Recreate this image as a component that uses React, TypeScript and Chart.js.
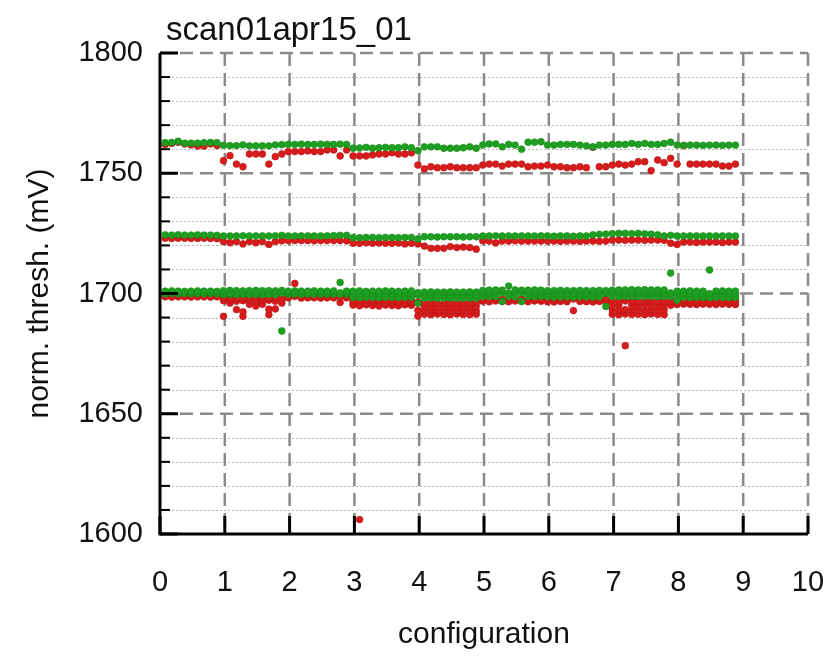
import { useEffect, useRef } from "react";
import { Chart, registerables } from "chart.js";

Chart.register(...registerables);

const FONT = "'Liberation Sans', Arial, Helvetica, sans-serif";

const chartTitle = "scan01apr15_01";
const xAxisTitle = "configuration";
const yAxisTitle = "norm. thresh. (mV)";

const xTicks = [0, 1, 2, 3, 4, 5, 6, 7, 8, 9, 10];
const yMajorTicks = [1600, 1650, 1700, 1750, 1800];
const yMinorTicks = [
  1610, 1620, 1630, 1640, 1660, 1670, 1680, 1690,
  1710, 1720, 1730, 1740, 1760, 1770, 1780, 1790,
];

// Readings per scan step (step i sits at configuration (i + 0.8) / 10).
// Upper threshold band
const topGreen = [
  1762.7, 1762.8, 1763.3, 1762.5, 1762.5, 1762.5, 1762.7, 1762.8, 1762.7,
  1761.6, 1761.5, 1761.5, 1761.8, 1761.4, 1761.4, 1761.4, 1761.4, 1761.8, 1761.9,
  1762.0, 1762.0, 1762.1, 1762.0, 1762.0, 1762.1, 1762.0, 1762.0, 1762.1, 1762.0,
  1760.4, 1760.5, 1760.8, 1760.4, 1760.6, 1760.8, 1760.6, 1760.6, 1761.0, 1760.6,
  1759.4, 1761.0, 1761.0, 1761.0, 1760.4, 1760.4, 1760.4, 1760.6, 1761.0, 1760.4,
  1761.7, 1762.2, 1762.2, 1761.0, 1762.0, 1761.7, 1760.0, 1762.9, 1762.9, 1763.1,
  1761.7, 1761.7, 1762.0, 1762.0, 1762.0, 1761.7, 1761.4, 1761.0, 1761.7, 1761.7,
  1762.0, 1762.0, 1762.0, 1762.4, 1762.0, 1762.4, 1762.0, 1762.0, 1762.4, 1762.9,
  1761.7, 1761.6, 1761.7, 1761.7, 1761.6, 1761.7, 1761.7, 1761.6, 1761.7, 1761.7,
];
const topRed = [
  1762.0, 1762.4, 1762.9, 1762.2, 1761.8, 1761.3, 1761.3, 1762.2, 1761.5,
  1755.2, 1757.3, 1753.8, 1752.7, 1758.0, 1758.0, 1758.0, 1753.8, 1756.9, 1758.0,
  1759.0, 1759.0, 1759.0, 1759.3, 1759.0, 1759.0, 1759.7, 1759.7, 1757.2, 1759.7,
  1757.2, 1757.2, 1757.2, 1757.6, 1758.0, 1758.0, 1758.5, 1758.0, 1758.0, 1758.5,
  1753.4, 1751.8, 1752.7, 1752.3, 1752.3, 1752.7, 1752.3, 1752.3, 1752.3, 1752.3,
  1753.4, 1753.8, 1753.8, 1753.0, 1753.8, 1753.8, 1753.8, 1752.7, 1753.0, 1753.0,
  1753.4, 1752.7, 1752.7, 1752.3, 1752.3, 1752.7, 1752.3, 1760.8, 1752.7, 1752.7,
  1753.4, 1753.8, 1753.4, 1753.8, 1754.8, 1754.8, 1751.1, 1755.5, 1754.4, 1756.2,
  1753.8, 1761.5, 1753.8, 1753.8, 1753.8, 1753.8, 1753.8, 1753.0, 1753.0, 1753.8,
];

// Middle threshold band
const midGreen = [
  1724.4, 1724.3, 1724.4, 1724.3, 1724.3, 1724.4, 1724.3, 1724.3, 1724.2,
  1723.9, 1723.9, 1723.9, 1724.0, 1723.9, 1723.9, 1723.9, 1723.9, 1724.0, 1724.2,
  1723.9, 1723.9, 1724.0, 1724.0, 1723.9, 1723.9, 1724.0, 1724.1, 1724.2, 1724.2,
  1723.2, 1723.2, 1723.3, 1723.3, 1723.2, 1723.3, 1723.3, 1723.2, 1723.3, 1723.3,
  1722.7, 1723.6, 1723.6, 1723.5, 1723.6, 1723.6, 1723.6, 1723.5, 1723.6, 1723.6,
  1723.9, 1723.9, 1724.0, 1723.9, 1723.9, 1723.9, 1724.0, 1723.9, 1723.9, 1724.0,
  1723.9, 1723.8, 1723.9, 1723.9, 1723.8, 1723.9, 1723.9, 1724.4, 1724.6, 1724.7,
  1724.9, 1725.0, 1725.0, 1724.9, 1725.0, 1724.8, 1724.7, 1724.4, 1723.9, 1724.2,
  1723.9, 1723.9, 1723.9, 1723.9, 1723.9, 1723.9, 1723.9, 1723.9, 1723.9, 1723.9,
];
const midRed = [
  1723.0, 1722.9, 1723.0, 1723.0, 1722.9, 1722.9, 1723.0, 1722.9, 1722.8,
  1721.6, 1721.1, 1721.6, 1720.6, 1721.6, 1721.1, 1721.6, 1720.4, 1721.6, 1721.9,
  1722.0, 1722.0, 1722.0, 1722.0, 1721.9, 1722.0, 1722.0, 1722.0, 1722.0, 1721.9,
  1720.9, 1720.9, 1721.1, 1720.9, 1721.0, 1720.9, 1720.9, 1721.0, 1720.6, 1720.9,
  1720.6, 1719.7, 1718.8, 1718.8, 1718.8, 1719.5, 1719.1, 1719.3, 1719.1, 1718.4,
  1721.9, 1721.8, 1721.0, 1721.8, 1721.8, 1721.9, 1721.8, 1721.8, 1721.8, 1721.8,
  1721.8, 1721.8, 1721.7, 1721.8, 1721.8, 1721.7, 1721.8, 1721.8, 1721.7, 1721.8,
  1722.2, 1722.2, 1722.1, 1722.2, 1722.2, 1722.1, 1722.2, 1722.2, 1722.1, 1720.9,
  1720.4, 1721.4, 1721.4, 1721.2, 1721.4, 1721.4, 1721.4, 1721.2, 1721.4, 1721.4,
];

// Lower threshold band (several channels per step)
const lowGreenA = [
  1701.0, 1701.1, 1701.0, 1700.9, 1701.0, 1701.1, 1701.0, 1701.0, 1700.9,
  1701.2, 1701.3, 1701.2, 1701.1, 1701.2, 1701.3, 1701.2, 1701.2, 1701.1, 1701.3,
  1701.0, 1701.1, 1701.0, 1701.0, 1701.1, 1701.0, 1701.0, 1701.1, 1704.6, 1701.0,
  1701.0, 1701.1, 1700.9, 1701.0, 1701.0, 1701.1, 1701.0, 1700.9, 1701.0, 1701.1,
  1700.4, 1700.6, 1700.7, 1700.6, 1700.6, 1700.7, 1700.6, 1700.6, 1700.7, 1700.6,
  1701.3, 1701.4, 1701.5, 1701.4, 1703.1, 1701.5, 1701.4, 1701.4, 1701.5, 1701.4,
  1701.2, 1701.2, 1701.3, 1701.2, 1701.2, 1701.3, 1701.2, 1701.2, 1701.3, 1701.2,
  1701.4, 1701.5, 1701.5, 1701.6, 1701.5, 1701.6, 1701.5, 1701.5, 1701.5, 1708.5,
  1701.0, 1701.0, 1701.1, 1701.0, 1701.0, 1709.8, 1701.0, 1701.1, 1701.0, 1701.0,
];
const lowGreenB = [
  1700.3, 1700.4, 1700.3, 1700.3, 1700.4, 1700.3, 1700.3, 1700.4, 1700.3,
  1700.2, 1700.1, 1700.2, 1700.2, 1700.1, 1700.2, 1700.2, 1700.1, 1700.2, 1700.2,
  1700.2, 1700.2, 1700.3, 1700.2, 1700.2, 1700.3, 1700.2, 1700.2, 1700.3, 1700.2,
  1699.8, 1699.7, 1699.8, 1699.8, 1699.7, 1699.8, 1699.8, 1699.7, 1699.8, 1699.8,
  1699.3, 1699.4, 1699.4, 1699.3, 1699.4, 1699.4, 1699.3, 1699.4, 1699.4, 1699.3,
  1700.2, 1700.1, 1700.2, 1700.2, 1700.1, 1700.2, 1700.2, 1700.1, 1700.2, 1700.2,
  1700.0, 1700.0, 1700.1, 1700.0, 1700.0, 1700.1, 1700.0, 1700.0, 1700.1, 1700.0,
  1700.2, 1700.2, 1700.1, 1700.2, 1700.2, 1700.1, 1700.2, 1700.2, 1700.1, 1700.2,
  1699.8, 1699.8, 1699.9, 1699.8, 1699.8, 1699.9, 1699.8, 1699.8, 1699.9, 1699.8,
];
const lowGreenC = [
  1699.9, 1700.0, 1699.9, 1700.0, 1699.9, 1700.0, 1699.9, 1700.0, 1699.9,
  1699.5, 1699.6, 1699.5, 1699.6, 1699.5, 1699.6, 1699.5, 1699.6, 1699.5, 1684.4,
  1699.7, 1699.8, 1699.7, 1699.8, 1699.7, 1699.8, 1699.7, 1699.8, 1699.7, 1699.8,
  1698.4, 1698.3, 1698.4, 1698.4, 1698.3, 1698.4, 1698.4, 1698.3, 1698.4, 1698.4,
  1695.9, 1698.0, 1698.1, 1698.0, 1698.0, 1698.1, 1698.0, 1698.0, 1698.1, 1698.0,
  1698.8, 1698.7, 1698.8, 1696.7, 1698.8, 1698.7, 1696.7, 1698.8, 1698.7, 1698.8,
  1698.6, 1698.5, 1698.6, 1698.6, 1698.5, 1698.6, 1698.6, 1698.5, 1698.6, 1694.6,
  1698.8, 1698.7, 1698.8, 1698.8, 1698.7, 1698.8, 1698.8, 1698.7, 1698.8, 1698.8,
  1697.2, 1698.4, 1698.3, 1698.4, 1698.4, 1698.3, 1698.4, 1698.4, 1698.3, 1698.4,
];
const lowRedA = [
  1699.0, 1698.9, 1699.0, 1699.1, 1699.0, 1698.9, 1699.0, 1699.0, 1698.9,
  1698.0, 1698.3, 1698.1, 1698.2, 1698.0, 1698.3, 1698.2, 1698.0, 1698.3, 1698.2,
  1698.7, 1698.8, 1698.7, 1698.6, 1698.7, 1698.8, 1698.7, 1698.7, 1698.6, 1698.7,
  1697.2, 1697.0, 1697.3, 1697.2, 1697.1, 1697.3, 1697.2, 1697.0, 1697.3, 1697.2,
  1696.4, 1696.0, 1696.2, 1695.9, 1696.1, 1696.2, 1695.9, 1696.0, 1696.2, 1696.1,
  1697.6, 1697.5, 1697.7, 1697.6, 1697.5, 1697.7, 1697.6, 1697.5, 1697.7, 1697.6,
  1697.6, 1697.7, 1697.5, 1697.6, 1697.7, 1697.5, 1697.6, 1697.7, 1697.5, 1697.6,
  1696.8, 1696.7, 1696.9, 1696.8, 1696.7, 1696.9, 1696.8, 1696.7, 1696.9, 1696.8,
  1697.2, 1697.1, 1697.3, 1697.2, 1697.1, 1697.3, 1697.2, 1697.1, 1697.3, 1697.2,
];
const lowRedB = [
  1698.6, 1698.5, 1698.6, 1698.6, 1698.5, 1698.6, 1698.6, 1698.5, 1698.6,
  1697.0, 1697.2, 1696.8, 1697.0, 1697.1, 1696.9, 1697.0, 1697.2, 1696.8, 1697.0,
  1698.2, 1704.2, 1698.1, 1698.2, 1698.2, 1698.1, 1698.2, 1698.2, 1696.3, 1698.2,
  1696.2, 1606.0, 1696.0, 1696.3, 1696.2, 1696.0, 1696.3, 1696.2, 1696.0, 1696.3,
  1690.6, 1694.6, 1694.4, 1694.7, 1694.5, 1694.4, 1694.7, 1694.5, 1694.4, 1694.6,
  1696.8, 1696.6, 1696.9, 1696.8, 1696.6, 1696.9, 1696.8, 1696.6, 1696.9, 1696.8,
  1696.6, 1696.5, 1696.7, 1696.6, 1692.9, 1696.7, 1696.6, 1696.5, 1696.7, 1696.6,
  1695.0, 1695.2, 1678.3, 1695.1, 1695.0, 1695.2, 1695.1, 1695.0, 1695.2, 1695.1,
  1696.2, 1696.0, 1696.3, 1696.2, 1696.0, 1696.3, 1696.2, 1696.0, 1696.3, 1696.2,
];
const lowRedC = [
  null, null, null, null, null, null, null, null, null,
  1690.5, 1696.0, 1693.3, 1692.4, 1695.5, 1694.8, 1695.5, 1693.5, 1693.6, 1696.0,
  null, null, null, null, null, null, null, null, null, null,
  1695.2, 1694.9, 1695.3, 1695.0, 1694.8, 1695.2, 1695.0, 1694.9, 1695.3, 1695.1,
  1693.0, 1692.8, 1693.1, 1692.9, 1693.0, 1692.8, 1693.1, 1692.9, 1693.0, 1692.8,
  null, null, null, null, null, null, null, null, null, null,
  null, null, null, null, null, null, null, null, null, null,
  1693.2, 1693.0, 1693.3, 1693.1, 1693.2, 1693.0, 1693.3, 1693.1, 1693.2, null,
  1695.4, 1695.6, 1695.5, 1695.4, 1695.6, 1695.5, 1695.4, 1695.6, 1695.5, 1695.4,
];
const lowRedD = [
  null, null, null, null, null, null, null, null, null,
  null, null, null, 1690.5, null, null, null, 1691.2, null, null,
  null, null, null, null, null, null, null, null, null, null,
  null, null, null, null, null, null, null, null, null, null,
  null, 1691.4, 1691.2, 1691.5, 1691.3, 1691.2, 1691.5, 1691.3, 1691.2, 1691.4,
  null, null, null, null, null, null, null, null, null, null,
  null, null, null, null, null, null, null, null, null, null,
  1691.4, 1691.2, 1691.5, 1691.3, 1691.4, 1691.2, 1691.5, 1691.3, 1691.2, null,
  null, null, null, null, null, null, null, null, null, null,
];

const GREEN = "#1f9f22";
const GREEN_EDGE = "#168a18";
const RED = "#d81c1c";
const RED_EDGE = "#b51212";

const greenSeries = [topGreen, midGreen, lowGreenA, lowGreenB, lowGreenC];
const redSeries = [topRed, midRed, lowRedA, lowRedB, lowRedC, lowRedD];

function toPoints(values: (number | null)[]) {
  const pts: { x: number; y: number }[] = [];
  values.forEach((v, i) => {
    if (v !== null) pts.push({ x: (i + 0.8) / 10, y: v });
  });
  return pts;
}

// Gnuplot-style frame: dotted minor lines, dashed major lines, black axes with inward ticks
const framePlugin = {
  id: "gnuFrame",
  beforeDatasetsDraw(chart: any) {
    const { ctx, chartArea: a, scales } = chart;
    const xs = scales.x;
    const ys = scales.y;
    ctx.save();
    ctx.lineWidth = 1;
    ctx.strokeStyle = "#b8b8b8";
    ctx.setLineDash([2, 2]);
    for (const v of yMinorTicks) {
      const py = Math.round(ys.getPixelForValue(v)) + 0.5;
      ctx.beginPath();
      ctx.moveTo(a.left, py);
      ctx.lineTo(a.right, py);
      ctx.stroke();
    }
    ctx.lineWidth = 2.5;
    ctx.strokeStyle = "#8a8a8a";
    ctx.setLineDash([13, 7]);
    for (const v of yMajorTicks) {
      if (v === ys.min) continue;
      const py = ys.getPixelForValue(v);
      ctx.beginPath();
      ctx.moveTo(a.left, py);
      ctx.lineTo(a.right, py);
      ctx.stroke();
    }
    for (const v of xTicks) {
      if (v === xs.min) continue;
      const px = xs.getPixelForValue(v);
      ctx.beginPath();
      ctx.moveTo(px, a.top);
      ctx.lineTo(px, a.bottom);
      ctx.stroke();
    }
    ctx.restore();
  },
  afterDatasetsDraw(chart: any) {
    const { ctx, chartArea: a, scales } = chart;
    const xs = scales.x;
    const ys = scales.y;
    ctx.save();
    ctx.setLineDash([]);
    ctx.strokeStyle = "#000";
    ctx.lineCap = "butt";
    ctx.lineWidth = 3;
    ctx.beginPath();
    ctx.moveTo(a.left, a.top);
    ctx.lineTo(a.left, a.bottom);
    ctx.lineTo(a.right, a.bottom);
    ctx.stroke();
    ctx.lineWidth = 2;
    for (const v of yMinorTicks) {
      const py = ys.getPixelForValue(v);
      ctx.beginPath();
      ctx.moveTo(a.left, py);
      ctx.lineTo(a.left + 10, py);
      ctx.stroke();
    }
    ctx.lineWidth = 3;
    for (const v of yMajorTicks) {
      const py = ys.getPixelForValue(v);
      ctx.beginPath();
      ctx.moveTo(a.left, py);
      ctx.lineTo(a.left + 18, py);
      ctx.stroke();
    }
    for (const v of xTicks) {
      const px = xs.getPixelForValue(v);
      ctx.beginPath();
      ctx.moveTo(px, a.bottom);
      ctx.lineTo(px, a.bottom - 18);
      ctx.stroke();
    }
    ctx.restore();
  },
  afterDraw(chart: any) {
    const { ctx } = chart;
    ctx.save();
    ctx.fillStyle = "#111";
    ctx.font = `33px ${FONT}`;
    ctx.textBaseline = "alphabetic";
    ctx.textAlign = "left";
    ctx.fillText(chartTitle, 166, 40);
    ctx.restore();
  },
};

export default function App() {
  const canvasRef = useRef<HTMLCanvasElement | null>(null);

  useEffect(() => {
    const canvas = canvasRef.current;
    if (!canvas) return;

    const datasets: any[] = [];
    greenSeries.forEach((vals, k) =>
      datasets.push({
        label: `green ${k}`,
        data: toPoints(vals),
        pointRadius: 3.4,
        pointBackgroundColor: GREEN,
        pointBorderColor: GREEN_EDGE,
        pointBorderWidth: 0.6,
        showLine: false,
        order: 0,
      })
    );
    redSeries.forEach((vals, k) =>
      datasets.push({
        label: `red ${k}`,
        data: toPoints(vals),
        pointRadius: 3.4,
        pointBackgroundColor: RED,
        pointBorderColor: RED_EDGE,
        pointBorderWidth: 0.6,
        showLine: false,
        order: 1,
      })
    );

    const chart = new Chart(canvas, {
      type: "scatter",
      data: { datasets },
      plugins: [framePlugin],
      options: {
        animation: false,
        responsive: false,
        devicePixelRatio: 1,
        layout: { padding: { top: 53, right: 0, left: 0, bottom: 0 } },
        plugins: {
          legend: { display: false },
          tooltip: { enabled: false },
          title: { display: false },
        },
        scales: {
          x: {
            type: "linear",
            min: 0,
            max: 10,
            grid: { display: false, drawTicks: false },
            border: { display: false },
            ticks: {
              stepSize: 1,
              padding: 32,
              color: "#111",
              font: { family: FONT, size: 29 },
              maxRotation: 0,
              callback: (v: any) => String(v),
            },
            title: {
              display: true,
              text: xAxisTitle,
              color: "#111",
              font: { family: FONT, size: 30 },
              padding: { top: 0, bottom: 11 },
            },
            afterFit: (scale: any) => {
              scale.height = 130;
              scale.paddingLeft = 0;
              scale.paddingRight = 32;
            },
          },
          y: {
            type: "linear",
            min: 1600,
            max: 1800,
            grid: { display: false, drawTicks: false },
            border: { display: false },
            ticks: {
              stepSize: 50,
              padding: 17,
              color: "#111",
              font: { family: FONT, size: 29 },
              callback: (v: any) => String(v),
            },
            title: {
              display: true,
              text: yAxisTitle,
              color: "#111",
              font: { family: FONT, size: 30 },
              padding: { top: 22, bottom: 0 },
            },
            afterFit: (scale: any) => {
              scale.width = 160;
            },
          },
        },
      },
    });

    return () => chart.destroy();
  }, []);

  return (
    <div style={{ position: "fixed", left: 0, top: 0, width: 840, height: 664, background: "#fff" }}>
      <canvas ref={canvasRef} width={840} height={664} />
    </div>
  );
}
